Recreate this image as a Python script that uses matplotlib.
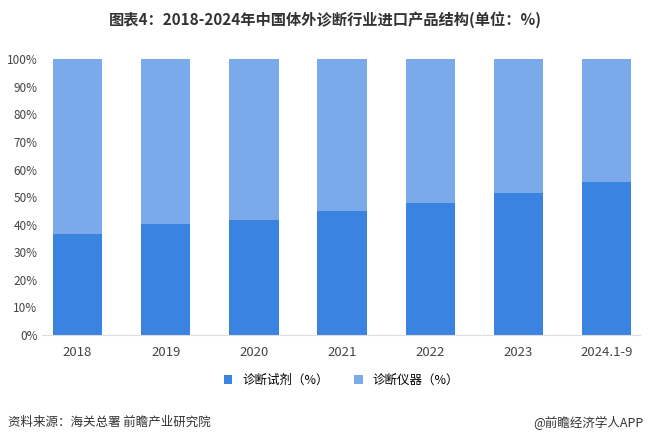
import matplotlib.pyplot as plt
from matplotlib.ticker import PercentFormatter

plt.rcParams['font.family'] = 'Noto Sans CJK SC'

# data
years = ['2018', '2019', '2020', '2021', '2022', '2023', '2024.1-9']
reagents = [36.5, 40.1, 41.6, 44.9, 47.8, 51.5, 55.5]
instruments = [100 - v for v in reagents]

c_reag = '#3b83e0'
c_inst = '#7aaaea'

fig = plt.figure(figsize=(6.5, 4.38), dpi=100)
ax = fig.add_axes([0.065, 0.235, 0.92, 0.63])

x = range(len(years))
ax.bar(x, reagents, width=0.56, color=c_reag, label='诊断试剂（%）')
ax.bar(x, instruments, width=0.56, bottom=reagents, color=c_inst, label='诊断仪器（%）')

ax.set_ylim(0, 100)
ax.set_yticks(range(0, 101, 10))
ax.yaxis.set_major_formatter(PercentFormatter(decimals=0))
ax.set_xticks(list(x))
ax.set_xticklabels(years)
ax.set_xlim(-0.4, len(years) - 0.62)
ax.tick_params(axis='y', length=0, labelsize=8.5, colors='#444444')
ax.tick_params(axis='x', length=0, labelsize=9.5, colors='#444444', pad=8)
for s in ['top', 'right', 'left']:
    ax.spines[s].set_visible(False)
ax.spines['bottom'].set_color('#dddddd')

ax.legend(loc='upper center', bbox_to_anchor=(0.5, -0.1), ncol=2, frameon=False,
          fontsize=9, handlelength=0.7, handleheight=0.7, columnspacing=2)

fig.text(0.5, 0.955, '图表4：2018-2024年中国体外诊断行业进口产品结构(单位：%)',
         ha='center', va='center', fontsize=11, fontweight='bold', color='#333333')
fig.text(0.012, 0.035, '资料来源：海关总署 前瞻产业研究院', ha='left', va='center',
         fontsize=9, color='#333333')
fig.text(0.99, 0.035, '@前瞻经济学人APP', ha='right', va='center',
         fontsize=9, color='#333333')

fig.savefig('out.png', dpi=100)
